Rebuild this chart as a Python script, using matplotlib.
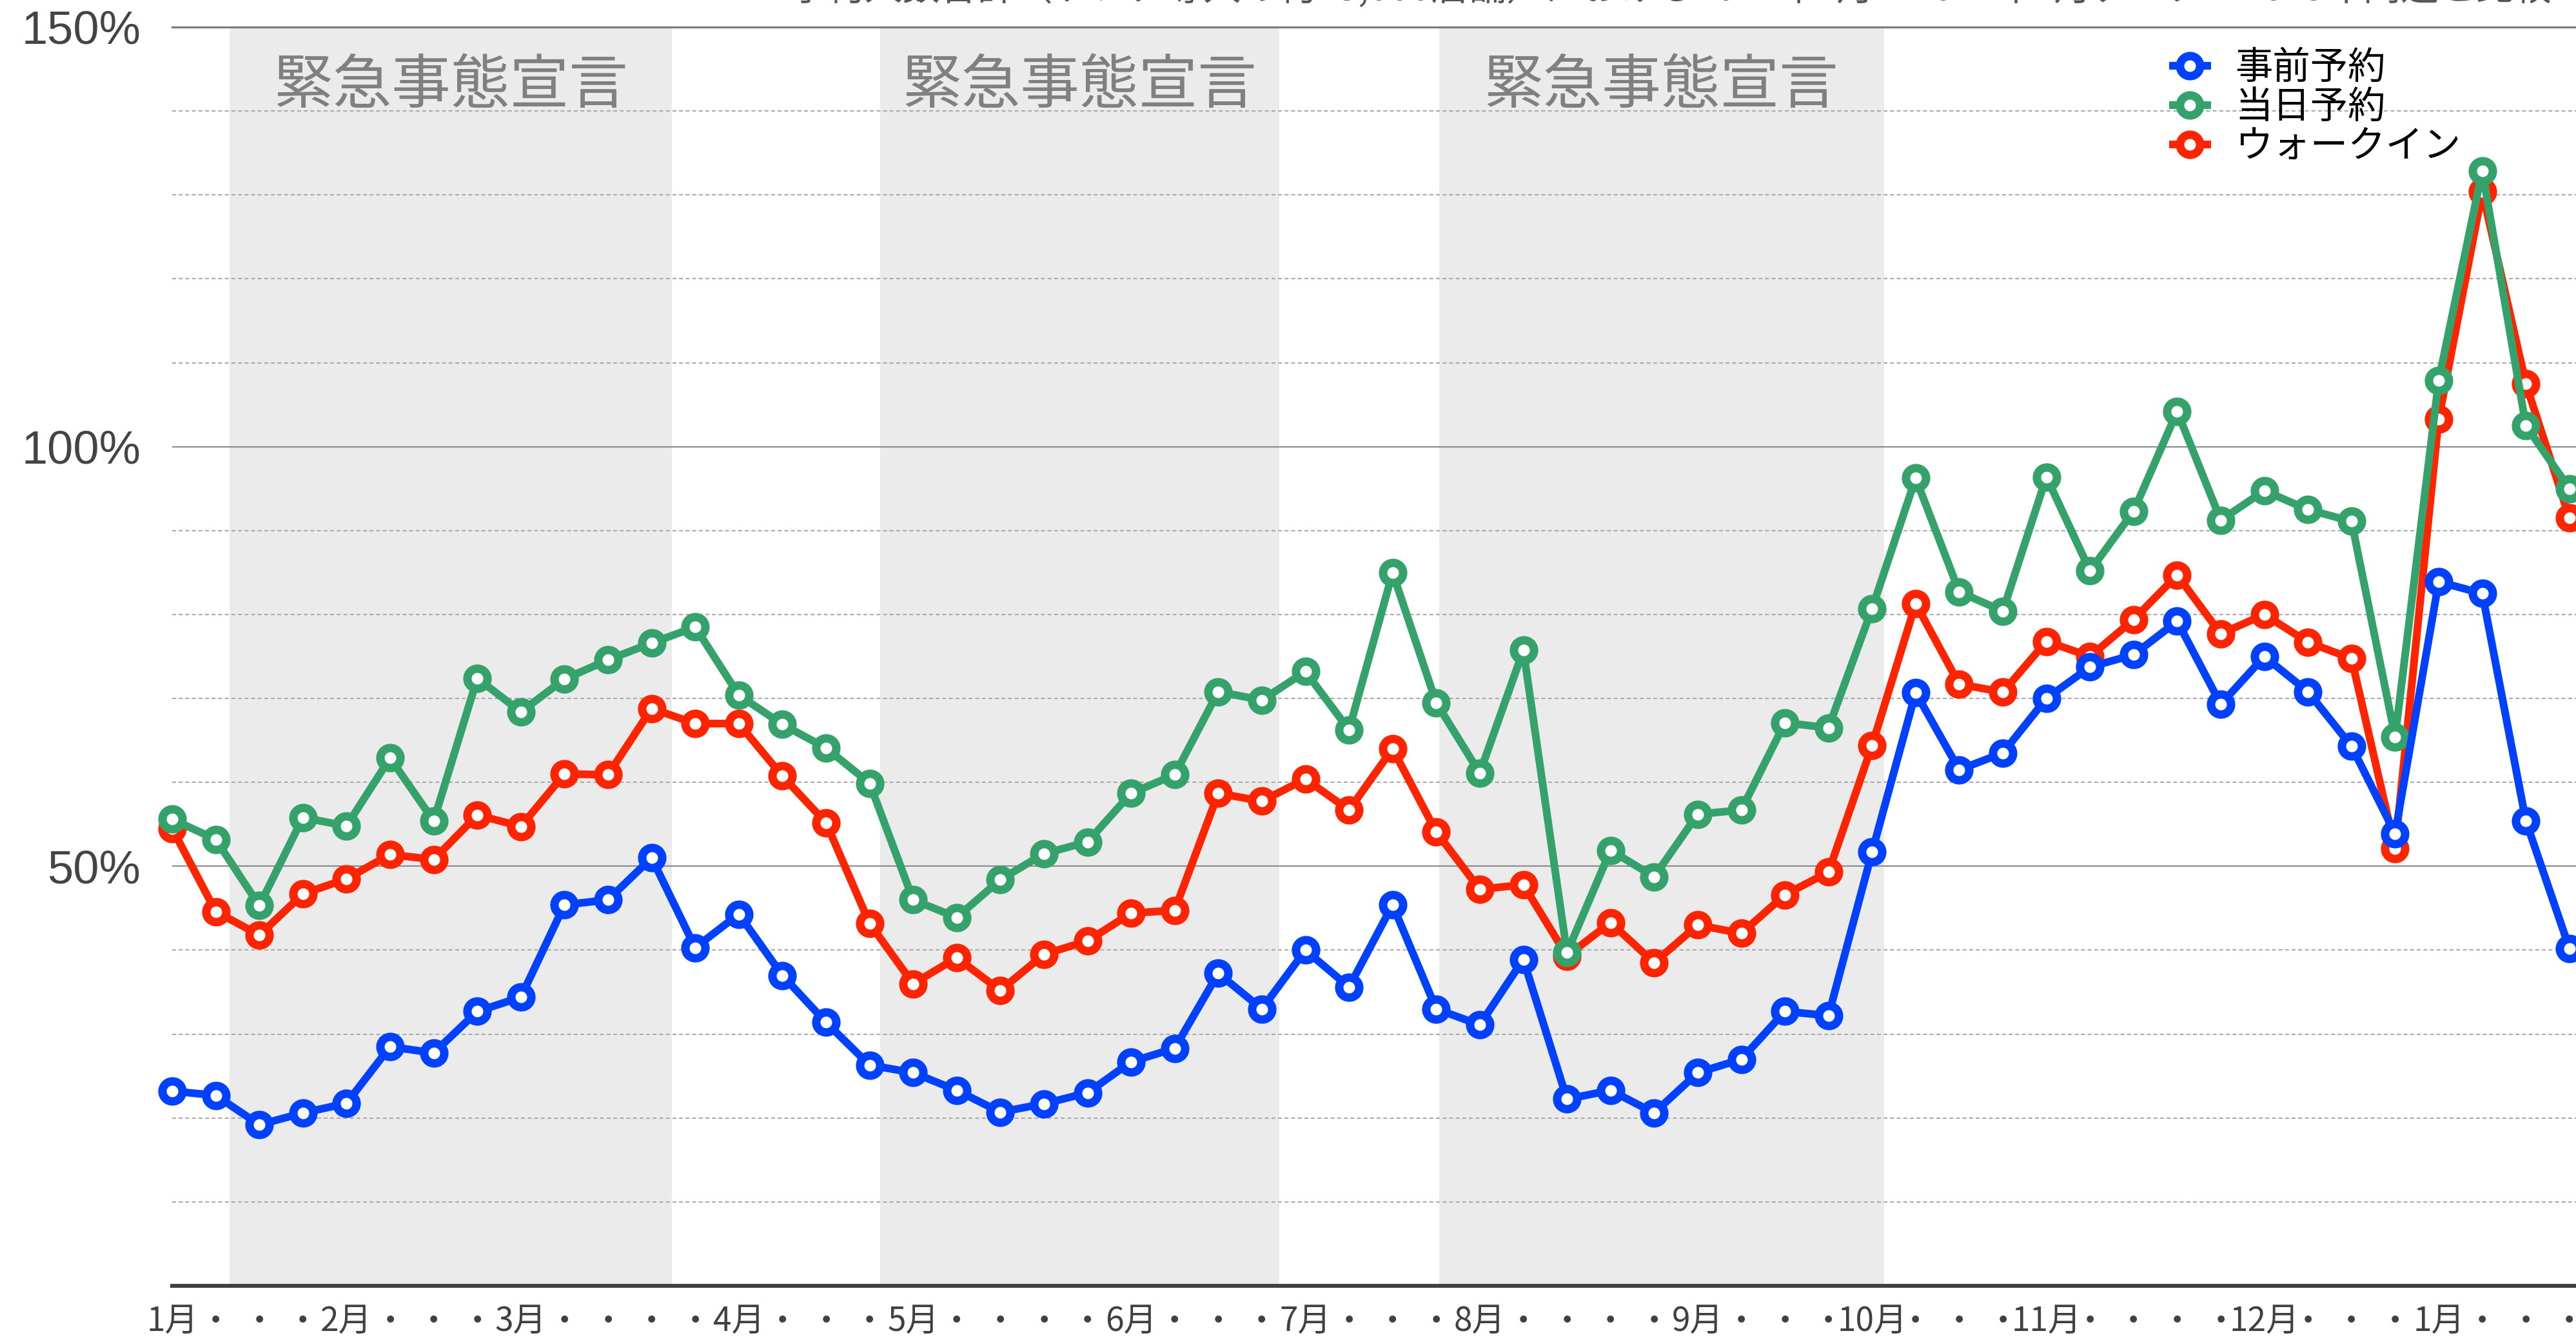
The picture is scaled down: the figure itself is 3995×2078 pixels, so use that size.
import numpy as np
import matplotlib
matplotlib.use("Agg")
import matplotlib.pyplot as plt

plt.rcParams['font.family'] = ['Noto Sans CJK JP', 'DejaVu Sans']

# 週ごとの値（2019年同週比, %）
weeks = np.arange(56)

jizen = [23.2, 22.7, 19.2, 20.6, 21.75, 28.5, 27.75, 32.7, 34.4, 45.4,
         46.0, 51.0, 40.3, 44.3, 37.0, 31.4, 26.3, 25.4, 23.3, 20.7,
         21.7, 23.0, 26.7, 28.3, 37.25, 33.0, 40.0, 35.6, 45.4, 33.0,
         31.1, 38.9, 22.25, 23.3, 20.6, 25.4, 27.0, 32.7, 32.2, 51.7,
         70.7, 61.5, 63.5, 70.0, 73.75, 75.2, 79.2, 69.3, 75.0, 70.8,
         64.3, 53.9, 83.9, 82.5, 55.4, 40.2]

toujitsu = [55.6, 53.2, 45.3, 55.8, 54.8, 62.9, 55.4, 72.4, 68.4, 72.3,
            74.6, 76.6, 78.5, 70.4, 66.9, 64.1, 59.9, 46.0, 43.9, 48.4,
            51.5, 52.9, 58.7, 60.9, 70.8, 69.8, 73.2, 66.25, 85.0, 69.5,
            61.1, 75.75, 39.7, 51.9, 48.75, 56.2, 56.7, 67.1, 66.5, 80.7,
            96.25, 82.7, 80.4, 96.4, 85.2, 92.3, 104.2, 91.25, 94.75, 92.5,
            91.1, 65.4, 107.9, 132.9, 102.5, 95.0]

walkin = [54.5, 44.6, 41.8, 46.7, 48.5, 51.4, 50.8, 56.1, 54.75, 61.0,
          60.9, 68.8, 67.0, 67.0, 60.75, 55.2, 43.2, 36.0, 39.1, 35.2,
          39.5, 41.1, 44.4, 44.75, 58.7, 57.75, 60.4, 56.7, 64.0, 54.1,
          47.25, 47.8, 39.3, 43.3, 38.5, 43.0, 42.0, 46.6, 49.3, 64.4,
          81.3, 71.7, 70.75, 76.8, 75.0, 79.4, 84.7, 77.7, 80.0, 76.7,
          74.75, 52.1, 103.3, 130.4, 107.5, 91.5]

month_weeks = [0, 4, 8, 13, 17, 22, 26, 30, 35, 39, 43, 48, 52]
month_names = ["1月", "2月", "3月", "4月", "5月", "6月", "7月",
               "8月", "9月", "10月", "11月", "12月", "1月"]

# 緊急事態宣言の期間（週の位置）
emergency = [(1.31, 11.47), (16.25, 25.4), (29.07, 39.27)]
emergency_label = "緊急事態宣言"

subtitle = "予約人数合計（トレタ導入の約13,000店舗）における2021年1月〜2022年1月データ：2019年同週と比較"

xlabels = ["・"] * len(weeks)
for w, m in zip(month_weeks, month_names):
    xlabels[w] = m

fig = plt.figure(figsize=(19.975, 10.39), dpi=200)
ax = fig.add_axes([267 / 3995, 84 / 2078, 1 - 267 / 3995, 1952 / 2078])

for a, b in emergency:
    ax.axvspan(a, b, color="#ebebeb", zorder=0.1, lw=0)
    ax.text((a + b) / 2, 142.9, emergency_label, ha="center", va="center",
            fontsize=33, color="#808080", zorder=1)

style = dict(lw=4.3, marker="o", ms=11.2, mew=4.7, mfc="white",
             solid_joinstyle="round", clip_on=False)
l3, = ax.plot(weeks, walkin, color="#ff2400", zorder=3, **style)
l2, = ax.plot(weeks, toujitsu, color="#35a16b", zorder=4, **style)
l1, = ax.plot(weeks, jizen, color="#0040ff", zorder=5, **style)

ax.set_xlim(0, 55.15)
ax.set_ylim(0, 150)

ax.set_axisbelow(True)
ax.set_yticks([50, 100, 150])
ax.set_yticklabels(["50%", "100%", "150%"])
ax.set_yticks([v for v in range(10, 150, 10) if v % 50], minor=True)
ax.grid(axis="y", which="major", color="#8a8a8a", lw=0.75)
ax.grid(axis="y", which="minor", color="#aaaaaa", lw=0.75, dashes=(2.9, 2.0))

ax.set_xticks(weeks)
ax.set_xticklabels(xlabels)

ax.tick_params(axis="y", which="both", length=0, pad=17.5, labelsize=26,
               labelcolor="#444444", labelfontfamily="Liberation Sans")
ax.tick_params(axis="x", length=0, pad=10.5, labelsize=18.5, labelcolor="#404040")

for s in ["left", "right"]:
    ax.spines[s].set_visible(False)
ax.spines["top"].set_color("#7a7a7a")
ax.spines["top"].set_linewidth(1.1)
ax.spines["bottom"].set_color("#404040")
ax.spines["bottom"].set_linewidth(2.2)

ax.legend([l1, l2, l3], ["事前予約", "当日予約", "ウォークイン"],
          loc="upper left", bbox_to_anchor=(3370 / 3995, 1 - 75 / 2078),
          bbox_transform=fig.transFigure, frameon=False, fontsize=21,
          handlelength=0.9, handletextpad=0.75, labelspacing=0.0,
          borderpad=0, borderaxespad=0)

fig.text(3958 / 3995, 1 - 1 / 2078, subtitle, ha="right", va="baseline",
         fontsize=21, color="#555555")

fig.savefig("out.png", dpi=200)
